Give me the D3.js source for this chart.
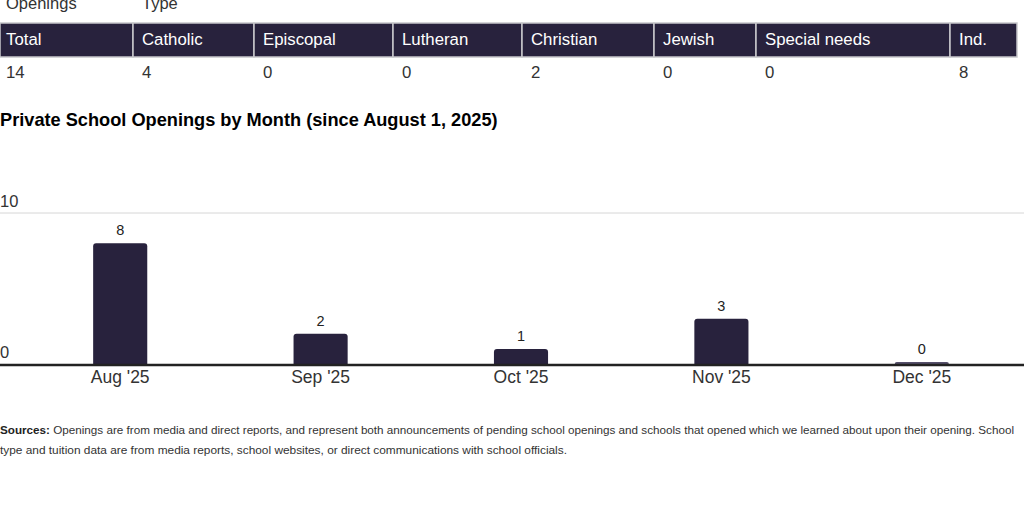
<!DOCTYPE html>
<html>
<head>
<meta charset="utf-8">
<script src="https://cdnjs.cloudflare.com/ajax/libs/d3/7.8.5/d3.min.js"></script>
<style>
  body { margin: 0; background: #fff; font-family: "Liberation Sans", Arial, sans-serif; }
  svg { display: block; }
</style>
</head>
<body>
<div id="chart"></div>
<script>
// table data
var tableHeads = ["Total", "Catholic", "Episcopal", "Lutheran", "Christian", "Jewish", "Special needs", "Ind."];
var tableVals = [14, 4, 0, 0, 2, 0, 0, 8];

// monthly openings
var months = ["Aug '25", "Sep '25", "Oct '25", "Nov '25", "Dec '25"];
var openings = [8, 2, 1, 3, 0];
var yTicks = [0, 10];

var W = 1024, H = 512;
var dark = "#28223d";

var svg = d3.select("#chart").append("svg")
  .attr("width", W)
  .attr("height", H);

// ---- table ----
var colEdges = [0, 133, 254, 393, 522, 654, 756, 950, 1017];

svg.append("text")
  .attr("x", 6).attr("y", 9)
  .attr("font-size", 16.5).attr("fill", "#333")
  .text("Openings");
svg.append("text")
  .attr("x", 142).attr("y", 9)
  .attr("font-size", 16.5).attr("fill", "#333")
  .text("Type");

var cols = svg.append("g").selectAll("g")
  .data(tableHeads)
  .join("g");

cols.append("rect")
  .attr("x", (d, i) => colEdges[i])
  .attr("y", 23)
  .attr("width", (d, i) => colEdges[i + 1] - colEdges[i])
  .attr("height", 34)
  .attr("fill", dark)
  .attr("stroke", "#c8c8cc")
  .attr("stroke-width", 1.5);

cols.append("text")
  .attr("x", (d, i) => colEdges[i] + (i ? 9 : 6))
  .attr("y", 45)
  .attr("font-size", 16.8)
  .attr("fill", "#fff")
  .text(d => d);

cols.append("text")
  .attr("x", (d, i) => colEdges[i] + (i ? 9 : 6))
  .attr("y", 78)
  .attr("font-size", 16.8)
  .attr("fill", "#333")
  .text((d, i) => tableVals[i]);

// ---- bar chart ----
svg.append("text")
  .attr("x", 0).attr("y", 126)
  .attr("font-size", 18.2)
  .attr("font-weight", "bold")
  .attr("fill", "#000")
  .text("Private School Openings by Month (since August 1, 2025)");

var x = d3.scaleBand()
  .domain(months)
  .range([20, 1022])
  .paddingInner(0.73)
  .paddingOuter(0.365);

var y = d3.scaleLinear()
  .domain([0, 10])
  .range([364, 213]);

// gridlines + tick labels
var grid = svg.append("g");
grid.selectAll("line")
  .data(yTicks.filter(d => d > 0))
  .join("line")
  .attr("x1", 0).attr("x2", W)
  .attr("y1", d => y(d)).attr("y2", d => y(d))
  .attr("stroke", "#d6d6d6")
  .attr("stroke-width", 1);

grid.selectAll("text")
  .data(yTicks)
  .join("text")
  .attr("x", 0)
  .attr("y", d => y(d) - 6)
  .attr("font-size", 16.5)
  .attr("fill", "#333")
  .text(d => d);

// bars with rounded tops
function barPath(x0, w, y0, y1, r) {
  var h = y1 - y0;
  r = Math.min(r, h, w / 2);
  if (h <= 0) return "";
  return "M" + x0 + "," + y1 +
    "V" + (y0 + r) +
    "Q" + x0 + "," + y0 + " " + (x0 + r) + "," + y0 +
    "H" + (x0 + w - r) +
    "Q" + (x0 + w) + "," + y0 + " " + (x0 + w) + "," + (y0 + r) +
    "V" + y1 + "Z";
}

var bars = svg.append("g");
bars.selectAll("path")
  .data(openings)
  .join("path")
  .attr("d", (d, i) => {
    var top = d > 0 ? y(d) : y(0) - 2;
    return barPath(x(months[i]), x.bandwidth(), top, y(0), 3);
  })
  .attr("fill", (d) => d > 0 ? dark : "#56506b");

bars.selectAll("text")
  .data(openings)
  .join("text")
  .attr("x", (d, i) => x(months[i]) + x.bandwidth() / 2)
  .attr("y", d => (d > 0 ? y(d) : y(0) - 2) - 8)
  .attr("text-anchor", "middle")
  .attr("font-size", 14.5)
  .attr("fill", "#222")
  .text(d => d);

// baseline
svg.append("line")
  .attr("x1", 0).attr("x2", W)
  .attr("y1", y(0) + 1).attr("y2", y(0) + 1)
  .attr("stroke", "#222")
  .attr("stroke-width", 2.5);

var xAxis = svg.append("g")
  .attr("transform", "translate(0," + (y(0) + 2) + ")")
  .call(d3.axisBottom(x).tickSize(0).tickPadding(5));
xAxis.select(".domain").remove();
xAxis.selectAll("text")
  .attr("font-size", 17.5)
  .attr("font-family", "Liberation Sans, Arial, sans-serif")
  .attr("fill", "#333");

// ---- footer ----
var foot = svg.append("g")
  .attr("font-family", "Liberation Sans, sans-serif")
  .attr("font-size", 11.5)
  .attr("fill", "#333");

var l1 = foot.append("text").attr("x", 0).attr("y", 434)
  .attr("textLength", 1014).attr("lengthAdjust", "spacingAndGlyphs");
l1.append("tspan").attr("font-weight", "bold").attr("fill", "#222").text("Sources:");
l1.append("tspan").text(" Openings are from media and direct reports, and represent both announcements of pending school openings and schools that opened which we learned about upon their opening. School");
foot.append("text").attr("x", 0).attr("y", 454)
  .attr("textLength", 567).attr("lengthAdjust", "spacingAndGlyphs")
  .text("type and tuition data are from media reports, school websites, or direct communications with school officials.");
</script>
</body>
</html>
